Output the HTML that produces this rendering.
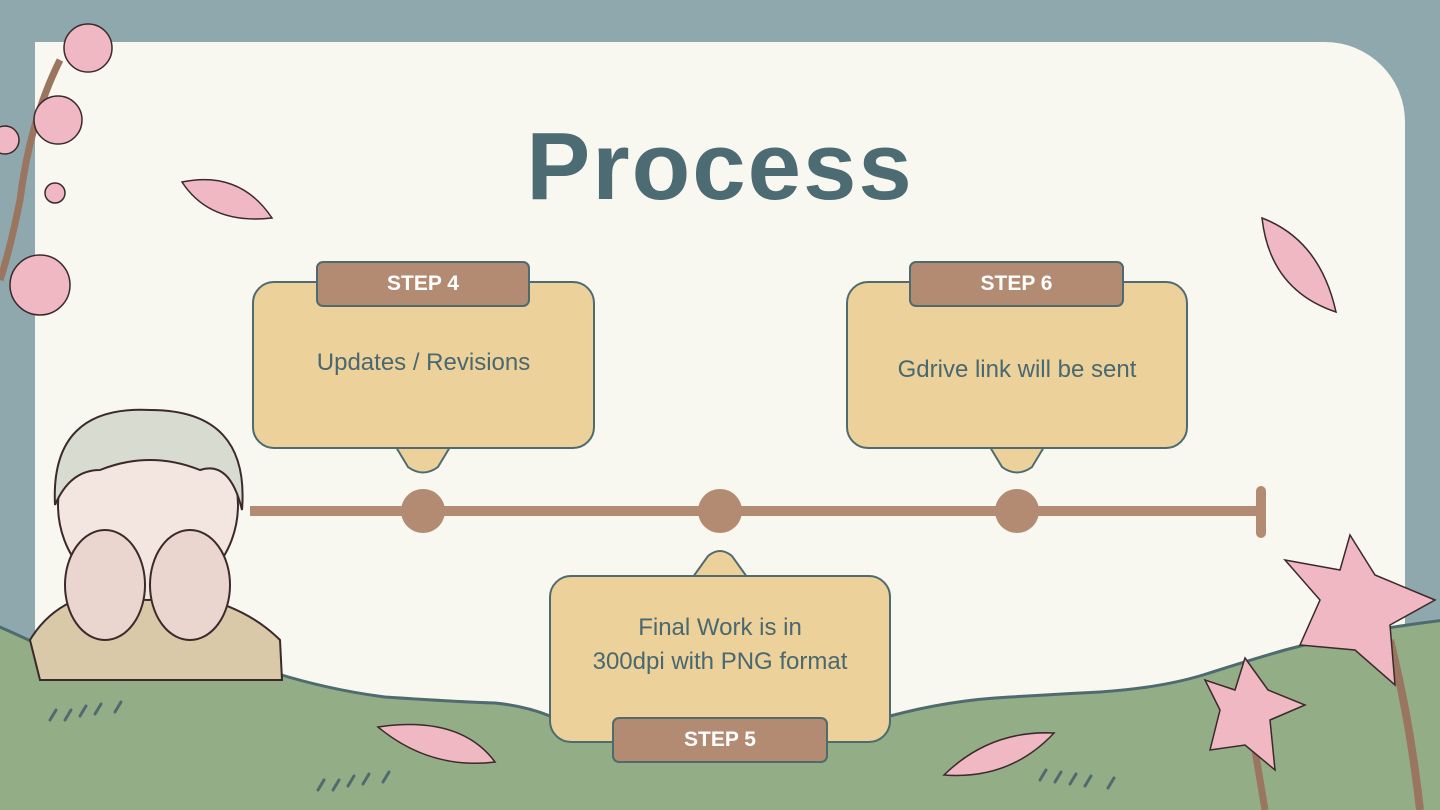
<!DOCTYPE html>
<html><head><style>
html,body{margin:0;width:1440px;height:810px;overflow:hidden}
body{background:#8ea8ad;position:relative;font-family:"Liberation Sans",sans-serif}
.panel{position:absolute;left:35px;top:42px;width:1370px;height:768px;background:#f8f7f0;border-top-right-radius:80px}
.box{position:absolute;background:#ecd19a;border:2px solid #4f6b70;border-radius:22px;box-sizing:border-box;color:#4a6870;font-size:24px;text-align:center;display:flex;align-items:center;justify-content:center;line-height:34px}
.tag{position:absolute;background:#b38b72;border:2px solid #4f6b70;border-radius:7px;box-sizing:border-box;color:#fff;font-size:21px;font-weight:bold;display:flex;align-items:center;justify-content:center}
h1{position:absolute;left:0;width:1440px;top:112px;margin:0;text-align:center;font-size:96px;color:#4d6b72;font-weight:bold;letter-spacing:2px}
svg{position:absolute;left:0;top:0}
</style></head><body>
<div class="panel"></div>
<h1>Process</h1>
<svg width="1440" height="810">
<rect x="250" y="506" width="1012" height="10" fill="#b38b72"/>
<rect x="1256" y="486" width="10" height="52" rx="5" fill="#b38b72"/>
<circle cx="423" cy="511" r="22" fill="#b38b72"/>
<circle cx="720" cy="511" r="22" fill="#b38b72"/>
<circle cx="1017" cy="511" r="22" fill="#b38b72"/>
<path d="M396 447 L408 467 Q423 478 438 467 L450 447Z" fill="#ecd19a" stroke="#4f6b70" stroke-width="2"/>
<path d="M990 447 L1002 467 Q1017 478 1032 467 L1044 447Z" fill="#ecd19a" stroke="#4f6b70" stroke-width="2"/>
<path d="M693 577 L708 556 Q720 546 732 556 L747 577Z" fill="#ecd19a" stroke="#4f6b70" stroke-width="2"/>
<rect x="0" y="720" width="1440" height="90" fill="#93ad87"/>
<path d="M-5 625 Q30 640 55 653 Q100 640 138 648 Q220 660 275 673 Q330 690 385 697 Q460 702 495 703 Q525 706 550 716 L550 815 L-5 815Z" fill="#93ad87"/>
<path d="M-5 625 Q30 640 55 653 Q100 640 138 648 Q220 660 275 673 Q330 690 385 697 Q460 702 495 703 Q525 706 550 716" fill="none" stroke="#4f6b70" stroke-width="3"/>
<path d="M890 716 Q950 700 1010 697 Q1060 694 1100 692 Q1160 688 1203 675 Q1250 660 1285 650 Q1360 630 1445 620 L1445 815 L890 815Z" fill="#93ad87"/>
<path d="M890 716 Q950 700 1010 697 Q1060 694 1100 692 Q1160 688 1203 675 Q1250 660 1285 650 Q1360 630 1445 620" fill="none" stroke="#4f6b70" stroke-width="3"/>
<g stroke="#4f6b70" stroke-width="3" stroke-linecap="round">
<path d="M50 720l6-10M65 720l6-10M80 716l6-10M95 714l6-10M115 712l6-10"/>
<path d="M318 790l6-10M333 790l6-10M348 786l6-10M363 784l6-10M383 782l6-10"/>
<path d="M1040 780l6-10M1055 782l6-10M1070 784l6-10M1085 786l6-10M1108 788l6-10"/>
</g>
<g fill="#f0b8c3" stroke="#3a2a2a" stroke-width="1.5">
<path d="M182 182 Q240 170 272 218 Q210 225 182 182Z"/>
<path d="M1262 218 Q1320 240 1336 312 Q1270 290 1262 218Z"/>
<path d="M378 727 Q460 715 495 762 Q430 770 378 727Z"/>
<path d="M1054 733 Q990 730 944 775 Q1010 780 1054 733Z"/>
</g>
<path d="M60 60 Q30 120 20 200 Q10 250 0 280" stroke="#9a7560" stroke-width="7" fill="none"/>
<g fill="#f0b8c3" stroke="#3a2a2a" stroke-width="1.5">
<circle cx="88" cy="48" r="24"/><circle cx="58" cy="120" r="24"/><circle cx="40" cy="285" r="30"/><circle cx="5" cy="140" r="14"/><circle cx="55" cy="193" r="10"/>
</g>
<path d="M1390 640 Q1410 720 1420 810" stroke="#9a7560" stroke-width="8" fill="none"/>
<path d="M1250 720 Q1260 780 1265 810" stroke="#9a7560" stroke-width="7" fill="none"/>
<g fill="#f0b8c3" stroke="#3a2a2a" stroke-width="1.5">
<path d="M1350 535 L1375 575 L1435 600 L1390 625 L1395 685 L1355 650 L1300 645 L1320 600 L1285 560 L1340 570Z"/>
<path d="M1245 658 L1268 690 L1305 705 L1270 720 L1275 770 L1245 745 L1210 750 L1220 710 L1205 680 L1235 690Z"/>
</g>
<path d="M30 640 Q60 590 130 590 Q230 590 280 640 L282 680 L40 680Z" fill="#d9c9a8" stroke="#3a2a2a" stroke-width="2"/>
<ellipse cx="148" cy="505" rx="90" ry="95" fill="#f3e6e0" stroke="#3a2a2a" stroke-width="2"/>
<path d="M55 505 Q50 405 150 410 Q250 410 242 510 Q230 460 200 470 Q150 450 100 470 Q70 470 55 505Z" fill="#d8dcd0" stroke="#3a2a2a" stroke-width="2"/>
<ellipse cx="105" cy="585" rx="40" ry="55" fill="#ead6cf" stroke="#3a2a2a" stroke-width="2"/>
<ellipse cx="190" cy="585" rx="40" ry="55" fill="#ead6cf" stroke="#3a2a2a" stroke-width="2"/>
</svg>
<div class="box" style="left:252px;top:281px;width:343px;height:168px;padding-bottom:4px">Updates / Revisions</div>
<div class="tag" style="left:316px;top:261px;width:214px;height:46px">STEP 4</div>
<div class="box" style="left:846px;top:281px;width:342px;height:168px;padding-top:10px">Gdrive link will be sent</div>
<div class="tag" style="left:909px;top:261px;width:215px;height:46px">STEP 6</div>
<div class="box" style="left:549px;top:575px;width:342px;height:168px;padding-bottom:28px">Final Work is in<br>300dpi with PNG format</div>
<div class="tag" style="left:612px;top:717px;width:216px;height:46px">STEP 5</div>
</body></html>
